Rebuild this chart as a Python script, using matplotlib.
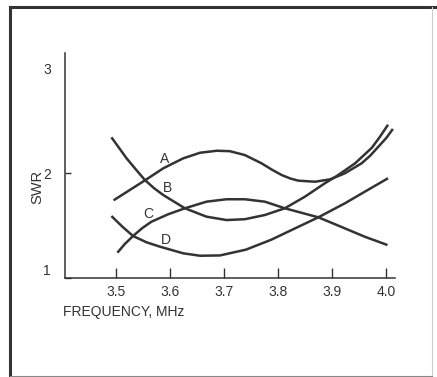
import matplotlib
matplotlib.use("Agg")
from matplotlib import pyplot as plt
from matplotlib.lines import Line2D

# values (frequency in MHz, SWR)
freq_a = [3.495, 3.524, 3.553, 3.587, 3.624, 3.655, 3.686, 3.710, 3.738,
          3.769, 3.787, 3.806, 3.822, 3.837, 3.868, 3.896, 3.923, 3.954,
          3.970, 3.985, 4.000, 4.012]
swr_a = [1.74, 1.835, 1.93, 2.045, 2.14, 2.193, 2.212, 2.208, 2.171,
         2.092, 2.035, 1.981, 1.948, 1.927, 1.917, 1.94, 1.997, 2.092,
         2.165, 2.25, 2.335, 2.42]

freq_b = [3.491, 3.505, 3.519, 3.536, 3.553, 3.570, 3.587, 3.627, 3.667,
          3.704, 3.738, 3.775, 3.812, 3.849, 3.886, 3.908, 3.942, 3.973,
          3.988, 4.003]
swr_b = [2.34, 2.24, 2.14, 2.035, 1.933, 1.855, 1.79, 1.664, 1.584,
         1.552, 1.56, 1.60, 1.664, 1.774, 1.902, 1.971, 2.092, 2.24,
         2.345, 2.46]

freq_c = [3.502, 3.516, 3.531, 3.548, 3.565, 3.596, 3.627, 3.667, 3.704,
          3.738, 3.775, 3.812, 3.874, 3.923, 3.960, 4.002]
swr_c = [1.241, 1.325, 1.40, 1.475, 1.536, 1.607, 1.664, 1.727, 1.75,
         1.75, 1.727, 1.664, 1.578, 1.473, 1.393, 1.314]

freq_d = [3.491, 3.511, 3.531, 3.556, 3.581, 3.624, 3.655, 3.692, 3.740,
          3.787, 3.831, 3.874, 3.923, 3.960, 4.003]
swr_d = [1.59, 1.49, 1.40, 1.34, 1.298, 1.235, 1.212, 1.215, 1.27,
         1.365, 1.473, 1.578, 1.711, 1.822, 1.95]

curve_names = ["A", "B", "C", "D"]
label_pos = [(3.590, 2.135), (3.595, 1.86), (3.560, 1.605), (3.591, 1.362)]

x_ticks = [3.5, 3.6, 3.7, 3.8, 3.9, 4.0]
x_labels = ["3.5", "3.6", "3.7", "3.8", "3.9", "4.0"]
y_ticks = [1, 2, 3]

ink = "#333333"
plt.rcParams["font.family"] = ["Liberation Sans", "DejaVu Sans"]

fig = plt.figure(figsize=(4.37, 3.77), dpi=100)
ax = fig.add_axes([0.1487, 0.2626, 0.7553, 0.5968])

for f, s in [(freq_a, swr_a), (freq_b, swr_b), (freq_c, swr_c), (freq_d, swr_d)]:
    ax.plot(f, s, color=ink, lw=1.8, solid_capstyle="butt", solid_joinstyle="round")

for name, (x, y) in zip(curve_names, label_pos):
    ax.text(x, y, name, fontsize=10, color=ink, ha="center", va="center")

ax.set_xlim(3.405, 4.016)
ax.set_ylim(1.0, 3.143)
ax.set_xticks(x_ticks)
ax.set_xticklabels(x_labels)
ax.set_yticks(y_ticks)
ax.tick_params(axis="x", direction="in", length=7, width=1.0, color=ink,
               labelsize=10, labelcolor=ink, pad=5)
ax.tick_params(axis="y", direction="in", length=4, width=1.0, color=ink,
               labelsize=10, labelcolor=ink, pad=10)
ax.yaxis.get_major_ticks()[2].tick1line.set_visible(False)
ax.get_yticklabels()[0].set_va("bottom")

for side in ["top", "right"]:
    ax.spines[side].set_visible(False)
for side in ["left", "bottom"]:
    ax.spines[side].set_color(ink)
    ax.spines[side].set_linewidth(1.1)

fig.text(63 / 437, 1 - 312 / 377, "FREQUENCY, MHz", fontsize=10, color=ink,
         ha="left", va="center")
fig.text(37 / 437, 1 - 187 / 377, "SWR", fontsize=10.5, color=ink,
         rotation=90, ha="center", va="center")

# page frame around the figure
fig.add_artist(Line2D([10 / 437, 10 / 437], [1 - 7 / 377, 0.0], color="#333333", lw=2.2))
fig.add_artist(Line2D([10 / 437, 1.0], [1 - 7 / 377, 1 - 7 / 377], color="#333333", lw=2.2))
fig.add_artist(Line2D([432 / 437, 432 / 437], [1 - 7 / 377, 0.0], color="#cccccc", lw=0.8))
fig.add_artist(Line2D([10 / 437, 432 / 437], [1.5 / 377, 1.5 / 377], color="#888888", lw=0.8))

fig.savefig("out.png", dpi=100)
